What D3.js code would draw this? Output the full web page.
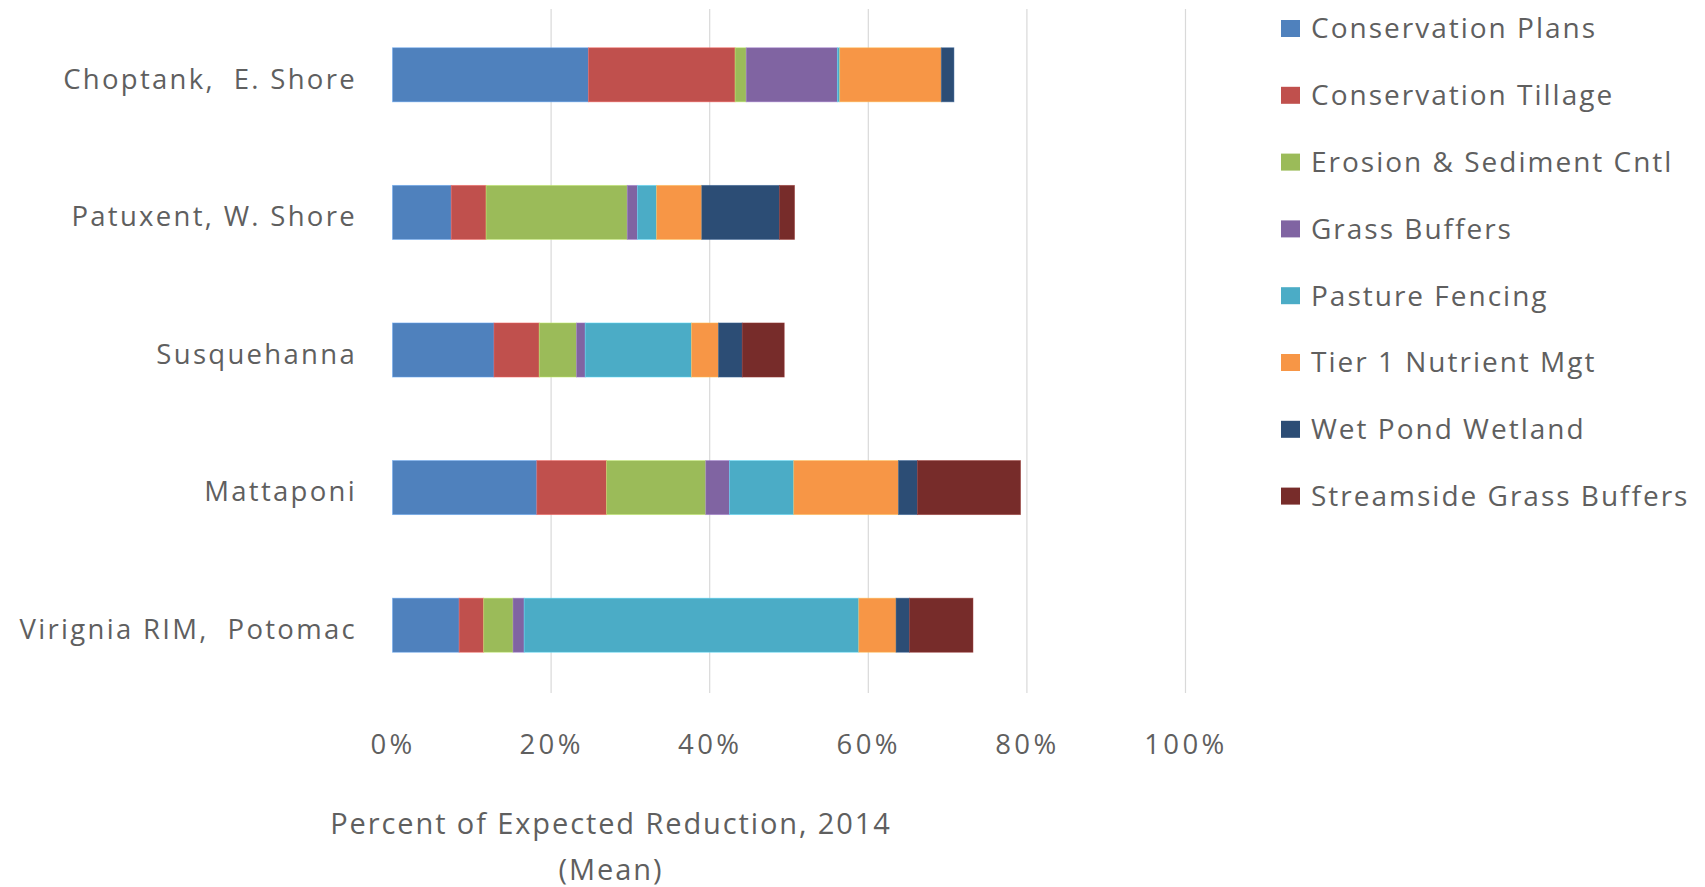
<!DOCTYPE html>
<html>
<head>
<meta charset="utf-8">
<script src="https://cdn.jsdelivr.net/npm/d3@7"></script>
<style>
  html, body { margin: 0; padding: 0; background: #ffffff; }
  svg { display: block; }
  text { font-family: "Open Sans", "Noto Sans", sans-serif; fill: #5f5f5f; }
</style>
</head>
<body>
<svg id="chart" width="1705" height="887"></svg>
<script>
// Watersheds (top to bottom)
const categories = [
  "Choptank,  E. Shore",
  "Patuxent, W. Shore",
  "Susquehanna",
  "Mattaponi",
  "Virignia RIM,  Potomac"
];

// Practice types, in stacking order
const practices = [
  "Conservation Plans",
  "Conservation Tillage",
  "Erosion & Sediment Cntl",
  "Grass Buffers",
  "Pasture Fencing",
  "Tier 1 Nutrient Mgt",
  "Wet Pond Wetland",
  "Streamside Grass Buffers"
];

// Percent of expected reduction (mean), one value per watershed
const conservationPlans      = [24.7, 7.4, 12.8, 18.2, 8.4];
const conservationTillage    = [18.5, 4.4, 5.7, 8.8, 3.1];
const erosionSedimentCntl    = [1.4, 17.8, 4.7, 12.5, 3.7];
const grassBuffers           = [11.5, 1.3, 1.1, 3.0, 1.4];
const pastureFencing         = [0.3, 2.4, 13.4, 8.1, 42.2];
const tier1NutrientMgt       = [12.8, 5.7, 3.4, 13.2, 4.7];
const wetPondWetland         = [1.6, 9.8, 3.0, 2.4, 1.7];
const streamsideGrassBuffers = [0.0, 1.9, 5.3, 13.0, 8.0];

const xTicks = [0, 0.2, 0.4, 0.6, 0.8, 1.0];

const seriesValues = [
  conservationPlans, conservationTillage, erosionSedimentCntl, grassBuffers,
  pastureFencing, tier1NutrientMgt, wetPondWetland, streamsideGrassBuffers
];

const colors = ["#4F81BD", "#C0504D", "#9BBB59", "#8064A2",
                "#4BACC6", "#F79646", "#2C4D75", "#772C2A"];

// Rows for the stack layout, values converted to fractions
const rows = categories.map((c, i) => {
  const r = { category: c };
  practices.forEach((p, k) => { r[p] = seriesValues[k][i] / 100; });
  return r;
});

const svg = d3.select("#chart");

const x = d3.scaleLinear().domain([0, 1]).range([392.5, 1185.5]);
const y = d3.scaleBand().domain(categories).range([6, 694]).paddingInner(0.607).paddingOuter(0.3035);

const color = d3.scaleOrdinal().domain(practices).range(colors);

// Vertical gridlines
svg.append("g")
  .selectAll("line")
  .data(xTicks.filter(t => t > 0))
  .join("line")
  .attr("x1", d => x(d)).attr("x2", d => x(d))
  .attr("y1", 9).attr("y2", 693)
  .attr("stroke", "#d9d9d9")
  .attr("stroke-width", 1.2);

// Stacked bars
const stacked = d3.stack().keys(practices)(rows);

svg.append("g")
  .selectAll("g")
  .data(stacked)
  .join("g")
  .attr("fill", d => color(d.key))
  .attr("stroke", d => d3.color(color(d.key)).brighter(0.7))
  .attr("stroke-width", 0.8)
  .attr("stroke-opacity", 0.6)
  .selectAll("rect")
  .data(d => d.filter(s => s[1] - s[0] > 0))
  .join("rect")
  .attr("x", d => x(d[0]))
  .attr("y", d => y(d.data.category))
  .attr("width", d => x(d[1]) - x(d[0]))
  .attr("height", y.bandwidth());

// Category axis labels
const yAxis = d3.axisLeft(y).tickSize(0).tickPadding(0);
const yg = svg.append("g")
  .attr("transform", "translate(357,5)")
  .call(yAxis);
yg.select(".domain").remove();
yg.selectAll("text")
  .attr("font-size", 27.5)
  .attr("letter-spacing", "2.3px")
  .attr("fill", "#5f5f5f")
  .attr("font-family", "\"Open Sans\", sans-serif")
  .style("white-space", "pre");

// Percentage axis labels
const xAxis = d3.axisBottom(x).tickValues(xTicks).tickFormat(d3.format(".0%")).tickSize(0).tickPadding(0);
const xg = svg.append("g")
  .attr("transform", "translate(0,734)")
  .call(xAxis);
xg.select(".domain").remove();
xg.selectAll("text")
  .attr("font-size", 27.5)
  .attr("letter-spacing", "3.4px")
  .attr("fill", "#5f5f5f")
  .attr("font-family", "\"Open Sans\", sans-serif");

// Axis title
const title = svg.append("text")
  .attr("text-anchor", "middle")
  .attr("font-size", 29)
  .attr("letter-spacing", "1.9px");
title.append("tspan").attr("x", 611).attr("y", 834).text("Percent of Expected Reduction, 2014");
title.append("tspan").attr("x", 611).attr("y", 880).text("(Mean)");

// Legend
const legend = svg.append("g")
  .selectAll("g")
  .data(practices)
  .join("g")
  .attr("transform", (d, i) => `translate(1281,${28.5 + i * 66.8})`);

legend.append("rect")
  .attr("x", 0).attr("y", -8.5)
  .attr("width", 19).attr("height", 17)
  .attr("fill", d => color(d));

legend.append("text")
  .attr("x", 30)
  .attr("y", 0)
  .attr("dy", "0.35em")
  .attr("font-size", 28)
  .attr("letter-spacing", "2.0px")
  .text(d => d);
</script>
</body>
</html>
